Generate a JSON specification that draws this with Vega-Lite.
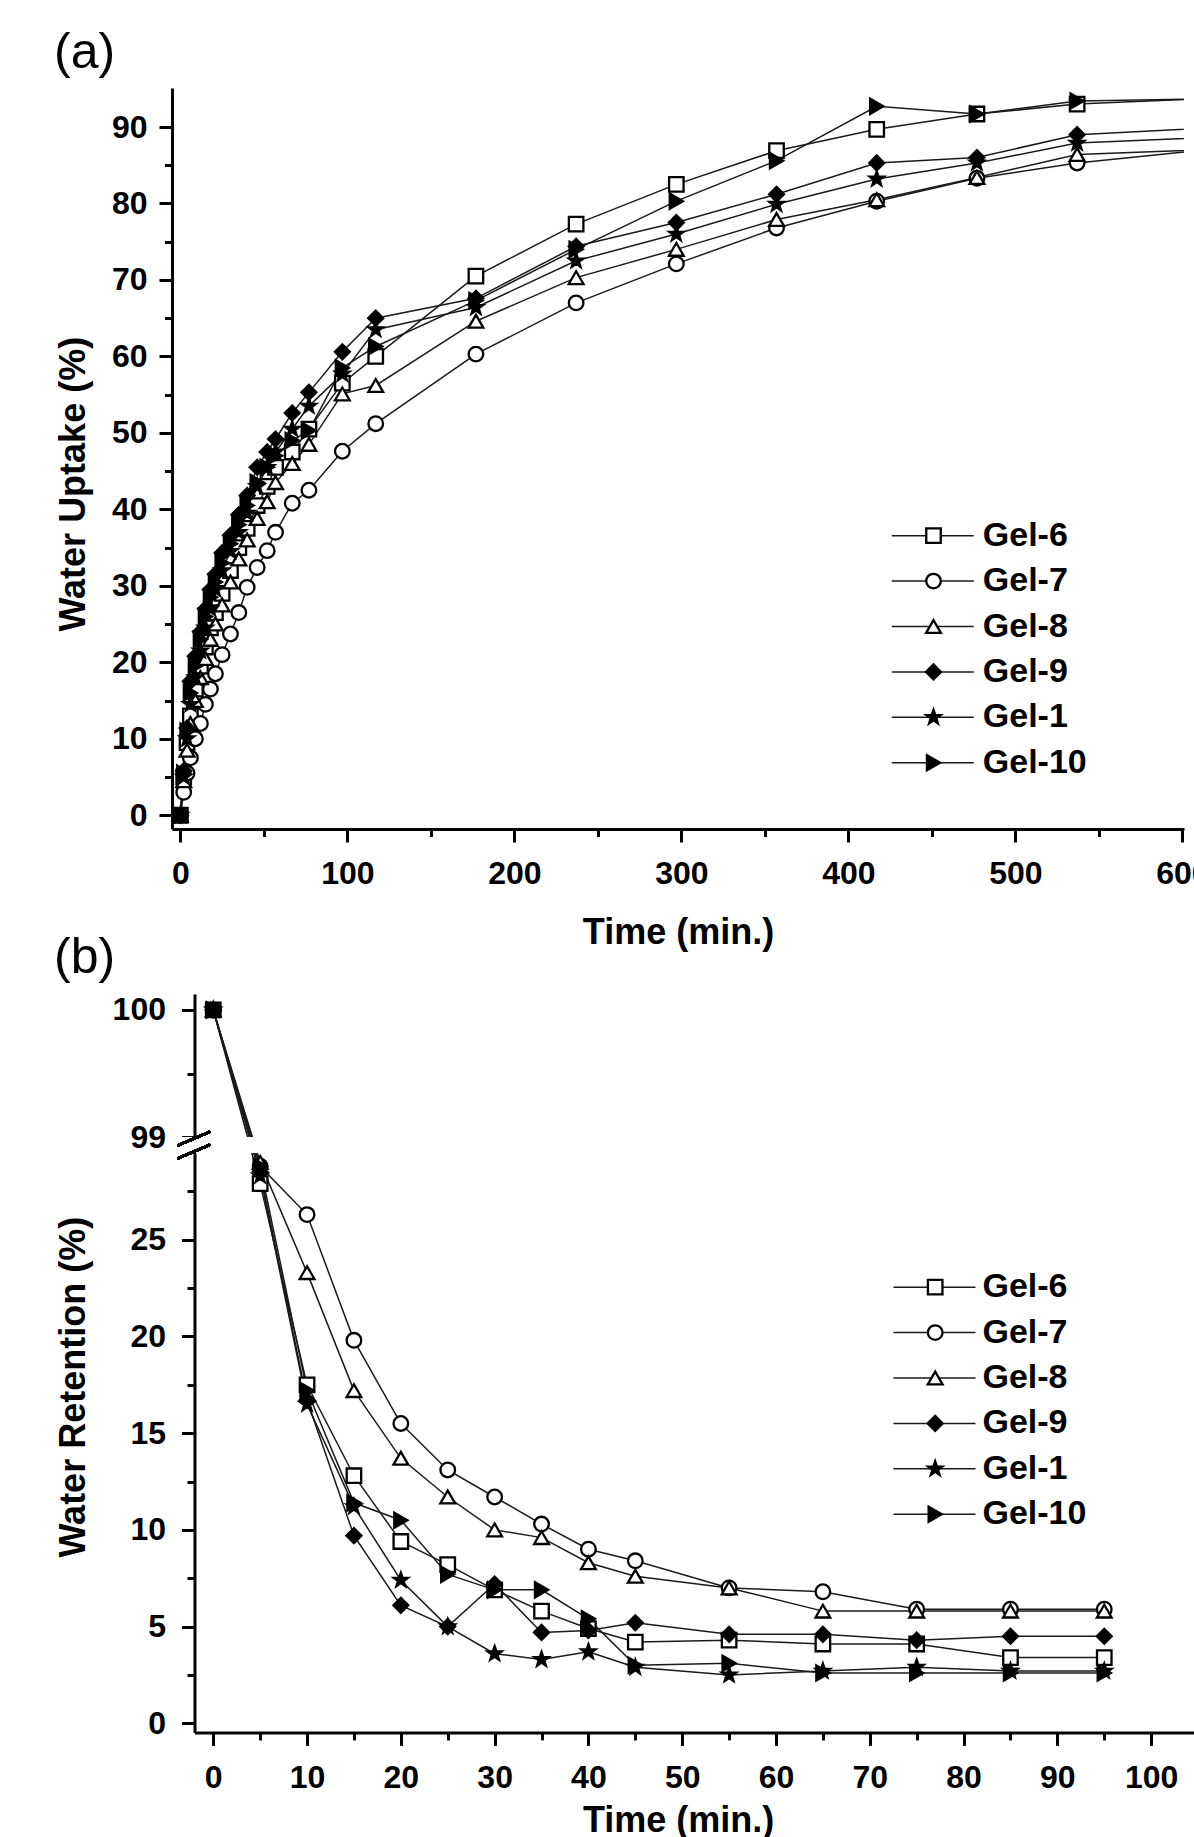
{
  "$schema": "https://vega.github.io/schema/vega-lite/v6.json",
  "padding": {"left": 54, "top": 28, "right": 0, "bottom": 0},
  "bounds": "flush",
  "spacing": 165,
  "resolve": {"scale": {"color": "independent", "shape": "independent", "fill": "independent", "size": "independent", "stroke": "independent"}},
  "config": {
    "view": {"stroke": null},
    "axis": {"domainColor": "black", "domainWidth": 3, "tickColor": "black", "tickWidth": 3, "tickSize": 13,
      "labelColor": "black", "labelFont": "Liberation Sans", "labelFontSize": 32, "labelFontWeight": "bold", "labelFlush": false,
      "titleColor": "black", "titleFont": "Liberation Sans", "titleFontSize": 36, "titleFontWeight": "bold", "grid": false},
    "legend": {"padding": 0, "labelFont": "Liberation Sans", "labelFontSize": 34, "labelFontWeight": "bold", "labelColor": "black"}
  },
  "datasets": {
    "uptake": [
      {"sample":"Gel-6","time":0,"value":0},{"sample":"Gel-6","time":2,"value":5.0},{"sample":"Gel-6","time":4,"value":9.5},{"sample":"Gel-6","time":6,"value":13.0},{"sample":"Gel-6","time":9,"value":16.5},{"sample":"Gel-6","time":12,"value":19.5},{"sample":"Gel-6","time":15,"value":22.0},{"sample":"Gel-6","time":18,"value":24.5},{"sample":"Gel-6","time":21,"value":26.5},{"sample":"Gel-6","time":25,"value":29.0},{"sample":"Gel-6","time":30,"value":32.0},{"sample":"Gel-6","time":35,"value":35.0},{"sample":"Gel-6","time":40,"value":37.5},{"sample":"Gel-6","time":46,"value":40.5},{"sample":"Gel-6","time":52,"value":43.0},{"sample":"Gel-6","time":57,"value":45.5},{"sample":"Gel-6","time":67,"value":47.5},{"sample":"Gel-6","time":77,"value":50.5},{"sample":"Gel-6","time":97,"value":56.5},{"sample":"Gel-6","time":117,"value":60.0},{"sample":"Gel-6","time":177,"value":70.5},{"sample":"Gel-6","time":237,"value":77.3},{"sample":"Gel-6","time":297,"value":82.5},{"sample":"Gel-6","time":357,"value":86.9},{"sample":"Gel-6","time":417,"value":89.7},{"sample":"Gel-6","time":477,"value":91.7},{"sample":"Gel-6","time":537,"value":93.0},{"sample":"Gel-6","time":657,"value":94.1},
      {"sample":"Gel-7","time":0,"value":0},{"sample":"Gel-7","time":2,"value":3.0},{"sample":"Gel-7","time":4,"value":5.5},{"sample":"Gel-7","time":6,"value":7.5},{"sample":"Gel-7","time":9,"value":10.0},{"sample":"Gel-7","time":12,"value":12.0},{"sample":"Gel-7","time":15,"value":14.5},{"sample":"Gel-7","time":18,"value":16.5},{"sample":"Gel-7","time":21,"value":18.5},{"sample":"Gel-7","time":25,"value":21.0},{"sample":"Gel-7","time":30,"value":23.7},{"sample":"Gel-7","time":35,"value":26.5},{"sample":"Gel-7","time":40,"value":29.8},{"sample":"Gel-7","time":46,"value":32.4},{"sample":"Gel-7","time":52,"value":34.6},{"sample":"Gel-7","time":57,"value":37.0},{"sample":"Gel-7","time":67,"value":40.8},{"sample":"Gel-7","time":77,"value":42.5},{"sample":"Gel-7","time":97,"value":47.6},{"sample":"Gel-7","time":117,"value":51.2},{"sample":"Gel-7","time":177,"value":60.3},{"sample":"Gel-7","time":237,"value":67.0},{"sample":"Gel-7","time":297,"value":72.1},{"sample":"Gel-7","time":357,"value":76.8},{"sample":"Gel-7","time":417,"value":80.3},{"sample":"Gel-7","time":477,"value":83.3},{"sample":"Gel-7","time":537,"value":85.3},{"sample":"Gel-7","time":657,"value":88.0},
      {"sample":"Gel-8","time":0,"value":0},{"sample":"Gel-8","time":2,"value":4.5},{"sample":"Gel-8","time":4,"value":8.5},{"sample":"Gel-8","time":6,"value":12.0},{"sample":"Gel-8","time":9,"value":15.0},{"sample":"Gel-8","time":12,"value":18.0},{"sample":"Gel-8","time":15,"value":20.5},{"sample":"Gel-8","time":18,"value":23.0},{"sample":"Gel-8","time":21,"value":25.0},{"sample":"Gel-8","time":25,"value":27.5},{"sample":"Gel-8","time":30,"value":30.5},{"sample":"Gel-8","time":35,"value":33.5},{"sample":"Gel-8","time":40,"value":36.0},{"sample":"Gel-8","time":46,"value":38.8},{"sample":"Gel-8","time":52,"value":41.0},{"sample":"Gel-8","time":57,"value":43.5},{"sample":"Gel-8","time":67,"value":46.0},{"sample":"Gel-8","time":77,"value":48.5},{"sample":"Gel-8","time":97,"value":55.1},{"sample":"Gel-8","time":117,"value":56.2},{"sample":"Gel-8","time":177,"value":64.6},{"sample":"Gel-8","time":237,"value":70.3},{"sample":"Gel-8","time":297,"value":74.0},{"sample":"Gel-8","time":357,"value":77.9},{"sample":"Gel-8","time":417,"value":80.5},{"sample":"Gel-8","time":477,"value":83.4},{"sample":"Gel-8","time":537,"value":86.4},{"sample":"Gel-8","time":657,"value":87.4},
      {"sample":"Gel-9","time":0,"value":0},{"sample":"Gel-9","time":2,"value":5.8},{"sample":"Gel-9","time":4,"value":11.4},{"sample":"Gel-9","time":6,"value":17.5},{"sample":"Gel-9","time":9,"value":20.8},{"sample":"Gel-9","time":12,"value":24.0},{"sample":"Gel-9","time":15,"value":27.0},{"sample":"Gel-9","time":18,"value":29.5},{"sample":"Gel-9","time":21,"value":31.5},{"sample":"Gel-9","time":25,"value":34.3},{"sample":"Gel-9","time":30,"value":36.6},{"sample":"Gel-9","time":35,"value":39.3},{"sample":"Gel-9","time":40,"value":41.8},{"sample":"Gel-9","time":46,"value":45.5},{"sample":"Gel-9","time":52,"value":47.5},{"sample":"Gel-9","time":57,"value":49.2},{"sample":"Gel-9","time":67,"value":52.6},{"sample":"Gel-9","time":77,"value":55.3},{"sample":"Gel-9","time":97,"value":60.6},{"sample":"Gel-9","time":117,"value":65.0},{"sample":"Gel-9","time":177,"value":67.6},{"sample":"Gel-9","time":237,"value":74.4},{"sample":"Gel-9","time":297,"value":77.5},{"sample":"Gel-9","time":357,"value":81.2},{"sample":"Gel-9","time":417,"value":85.3},{"sample":"Gel-9","time":477,"value":86.0},{"sample":"Gel-9","time":537,"value":89.0},{"sample":"Gel-9","time":657,"value":90.3},
      {"sample":"Gel-1","time":0,"value":0},{"sample":"Gel-1","time":2,"value":5.0},{"sample":"Gel-1","time":4,"value":10.0},{"sample":"Gel-1","time":6,"value":14.5},{"sample":"Gel-1","time":9,"value":18.0},{"sample":"Gel-1","time":12,"value":21.5},{"sample":"Gel-1","time":15,"value":24.5},{"sample":"Gel-1","time":18,"value":27.0},{"sample":"Gel-1","time":21,"value":29.5},{"sample":"Gel-1","time":25,"value":32.0},{"sample":"Gel-1","time":30,"value":34.5},{"sample":"Gel-1","time":35,"value":37.0},{"sample":"Gel-1","time":40,"value":39.5},{"sample":"Gel-1","time":46,"value":43.0},{"sample":"Gel-1","time":52,"value":45.5},{"sample":"Gel-1","time":57,"value":47.5},{"sample":"Gel-1","time":67,"value":50.5},{"sample":"Gel-1","time":77,"value":53.5},{"sample":"Gel-1","time":97,"value":57.7},{"sample":"Gel-1","time":117,"value":63.5},{"sample":"Gel-1","time":177,"value":66.4},{"sample":"Gel-1","time":237,"value":72.5},{"sample":"Gel-1","time":297,"value":76.0},{"sample":"Gel-1","time":357,"value":79.9},{"sample":"Gel-1","time":417,"value":83.2},{"sample":"Gel-1","time":477,"value":85.3},{"sample":"Gel-1","time":537,"value":87.9},{"sample":"Gel-1","time":657,"value":89.0},
      {"sample":"Gel-10","time":0,"value":0},{"sample":"Gel-10","time":2,"value":5.5},{"sample":"Gel-10","time":4,"value":11.0},{"sample":"Gel-10","time":6,"value":16.0},{"sample":"Gel-10","time":9,"value":19.5},{"sample":"Gel-10","time":12,"value":23.0},{"sample":"Gel-10","time":15,"value":26.0},{"sample":"Gel-10","time":18,"value":28.5},{"sample":"Gel-10","time":21,"value":30.5},{"sample":"Gel-10","time":25,"value":33.0},{"sample":"Gel-10","time":30,"value":35.5},{"sample":"Gel-10","time":35,"value":38.0},{"sample":"Gel-10","time":40,"value":40.5},{"sample":"Gel-10","time":46,"value":43.5},{"sample":"Gel-10","time":52,"value":45.5},{"sample":"Gel-10","time":57,"value":47.0},{"sample":"Gel-10","time":67,"value":49.0},{"sample":"Gel-10","time":77,"value":50.3},{"sample":"Gel-10","time":97,"value":58.5},{"sample":"Gel-10","time":117,"value":61.3},{"sample":"Gel-10","time":177,"value":67.3},{"sample":"Gel-10","time":237,"value":74.0},{"sample":"Gel-10","time":297,"value":80.3},{"sample":"Gel-10","time":357,"value":85.6},{"sample":"Gel-10","time":417,"value":92.7},{"sample":"Gel-10","time":477,"value":91.7},{"sample":"Gel-10","time":537,"value":93.4},{"sample":"Gel-10","time":657,"value":93.8}
    ],
    "retention": [
      {"sample":"Gel-6","time":0,"value":100},{"sample":"Gel-6","time":5,"value":27.9},{"sample":"Gel-6","time":10,"value":17.5},{"sample":"Gel-6","time":15,"value":12.8},{"sample":"Gel-6","time":20,"value":9.4},{"sample":"Gel-6","time":25,"value":8.2},{"sample":"Gel-6","time":30,"value":6.9},{"sample":"Gel-6","time":35,"value":5.8},{"sample":"Gel-6","time":40,"value":4.9},{"sample":"Gel-6","time":45,"value":4.2},{"sample":"Gel-6","time":55,"value":4.3},{"sample":"Gel-6","time":65,"value":4.1},{"sample":"Gel-6","time":75,"value":4.1},{"sample":"Gel-6","time":85,"value":3.4},{"sample":"Gel-6","time":95,"value":3.4},
      {"sample":"Gel-7","time":0,"value":100},{"sample":"Gel-7","time":5,"value":28.8},{"sample":"Gel-7","time":10,"value":26.3},{"sample":"Gel-7","time":15,"value":19.8},{"sample":"Gel-7","time":20,"value":15.5},{"sample":"Gel-7","time":25,"value":13.1},{"sample":"Gel-7","time":30,"value":11.7},{"sample":"Gel-7","time":35,"value":10.3},{"sample":"Gel-7","time":40,"value":9.0},{"sample":"Gel-7","time":45,"value":8.4},{"sample":"Gel-7","time":55,"value":7.0},{"sample":"Gel-7","time":65,"value":6.8},{"sample":"Gel-7","time":75,"value":5.9},{"sample":"Gel-7","time":85,"value":5.9},{"sample":"Gel-7","time":95,"value":5.9},
      {"sample":"Gel-8","time":0,"value":100},{"sample":"Gel-8","time":5,"value":29.0},{"sample":"Gel-8","time":10,"value":23.3},{"sample":"Gel-8","time":15,"value":17.2},{"sample":"Gel-8","time":20,"value":13.7},{"sample":"Gel-8","time":25,"value":11.7},{"sample":"Gel-8","time":30,"value":10.0},{"sample":"Gel-8","time":35,"value":9.6},{"sample":"Gel-8","time":40,"value":8.3},{"sample":"Gel-8","time":45,"value":7.6},{"sample":"Gel-8","time":55,"value":7.0},{"sample":"Gel-8","time":65,"value":5.8},{"sample":"Gel-8","time":75,"value":5.8},{"sample":"Gel-8","time":85,"value":5.8},{"sample":"Gel-8","time":95,"value":5.8},
      {"sample":"Gel-9","time":0,"value":100},{"sample":"Gel-9","time":5,"value":28.5},{"sample":"Gel-9","time":10,"value":16.7},{"sample":"Gel-9","time":15,"value":9.7},{"sample":"Gel-9","time":20,"value":6.1},{"sample":"Gel-9","time":25,"value":5.0},{"sample":"Gel-9","time":30,"value":7.2},{"sample":"Gel-9","time":35,"value":4.7},{"sample":"Gel-9","time":40,"value":4.8},{"sample":"Gel-9","time":45,"value":5.2},{"sample":"Gel-9","time":55,"value":4.6},{"sample":"Gel-9","time":65,"value":4.6},{"sample":"Gel-9","time":75,"value":4.3},{"sample":"Gel-9","time":85,"value":4.5},{"sample":"Gel-9","time":95,"value":4.5},
      {"sample":"Gel-1","time":0,"value":100},{"sample":"Gel-1","time":5,"value":28.3},{"sample":"Gel-1","time":10,"value":16.5},{"sample":"Gel-1","time":15,"value":11.2},{"sample":"Gel-1","time":20,"value":7.4},{"sample":"Gel-1","time":25,"value":5.0},{"sample":"Gel-1","time":30,"value":3.6},{"sample":"Gel-1","time":35,"value":3.3},{"sample":"Gel-1","time":40,"value":3.7},{"sample":"Gel-1","time":45,"value":2.9},{"sample":"Gel-1","time":55,"value":2.5},{"sample":"Gel-1","time":65,"value":2.7},{"sample":"Gel-1","time":75,"value":2.9},{"sample":"Gel-1","time":85,"value":2.7},{"sample":"Gel-1","time":95,"value":2.7},
      {"sample":"Gel-10","time":0,"value":100},{"sample":"Gel-10","time":5,"value":28.8},{"sample":"Gel-10","time":10,"value":17.2},{"sample":"Gel-10","time":15,"value":11.4},{"sample":"Gel-10","time":20,"value":10.5},{"sample":"Gel-10","time":25,"value":7.7},{"sample":"Gel-10","time":30,"value":6.9},{"sample":"Gel-10","time":35,"value":6.9},{"sample":"Gel-10","time":40,"value":5.4},{"sample":"Gel-10","time":45,"value":3.0},{"sample":"Gel-10","time":55,"value":3.1},{"sample":"Gel-10","time":65,"value":2.6},{"sample":"Gel-10","time":75,"value":2.6},{"sample":"Gel-10","time":85,"value":2.6},{"sample":"Gel-10","time":95,"value":2.6}
    ]
  },
  "vconcat": [
    {
      "title": {"text": "(a)", "anchor": "start", "frame": "group", "dx": -118, "offset": -30, "baseline": "alphabetic", "font": "Liberation Sans", "fontSize": 50, "fontWeight": "normal", "color": "black"},
      "width": 1012,
      "height": 741,
      "data": {"name": "uptake"},
      "resolve": {"axis": {"x": "independent", "y": "independent"}},
      "layer": [
        {
          "mark": {"type": "line", "clip": true, "strokeWidth": 1.5},
          "encoding": {
            "x": {"field": "time", "type": "quantitative", "scale": {"domain": [-5, 601], "nice": false, "zero": false},
              "axis": {"values": [0, 100, 200, 300, 400, 500, 600], "labelPadding": 16.6, "title": "Time (min.)", "titleX": 506, "titleY": 103, "titleBaseline": "middle"}},
            "y": {"field": "value", "type": "quantitative", "scale": {"domain": [-1.8, 95.1], "nice": false, "zero": false},
              "axis": {"values": [0, 10, 20, 30, 40, 50, 60, 70, 80, 90], "labelPadding": 12, "title": "Water Uptake (%)", "titleX": -98.7, "titleY": 395.7, "titleBaseline": "middle"}},
            "color": {"field": "sample", "type": "nominal",
              "scale": {"domain": ["Gel-1", "Gel-10", "Gel-6", "Gel-7", "Gel-8", "Gel-9"], "range": ["#1a1a1a", "#1a1a1a", "#1a1a1a", "#1a1a1a", "#1a1a1a", "#1a1a1a"]},
              "legend": {"orient": "none", "legendX": 743.8, "legendY": 430.7, "title": null, "values": ["Gel-6", "Gel-7", "Gel-8", "Gel-9", "Gel-1", "Gel-10"], "symbolType": "M-8.2,0H8.2", "symbolSize": 100, "symbolStrokeWidth": 1.5, "symbolStrokeColor": "#1a1a1a", "labelOffset": 33, "rowPadding": 11.4}}
          }
        },
        {
          "mark": {"type": "point", "clip": true, "filled": true, "opacity": 1, "strokeWidth": 2.3},
          "encoding": {
            "x": {"field": "time", "type": "quantitative",
              "axis": {"orient": "bottom", "values": [50, 150, 250, 350, 450, 550], "tickSize": 7.5, "labels": false, "domain": false, "title": null}},
            "y": {"field": "value", "type": "quantitative",
              "axis": {"orient": "left", "values": [5, 15, 25, 35, 45, 55, 65, 75, 85], "tickSize": 7.5, "labels": false, "domain": false, "title": null}},
            "shape": {"field": "sample", "type": "nominal",
              "scale": {"domain": ["Gel-6", "Gel-7", "Gel-8", "Gel-9", "Gel-1", "Gel-10"], "range": ["square", "circle", "triangle-up", "diamond", "M0,-1L0.235,-0.324L0.951,-0.309L0.38,0.124L0.588,0.809L0,0.4L-0.588,0.809L-0.38,0.124L-0.951,-0.309L-0.235,-0.324Z", "triangle-right"]},
              "legend": {"orient": "none", "legendX": 744.5, "legendY": 430.7, "title": null, "labelExpr": "' '", "rowPadding": 11.4, "symbolStrokeWidth": 2.3}},
            "fill": {"field": "sample", "type": "nominal",
              "scale": {"domain": ["Gel-6", "Gel-7", "Gel-8", "Gel-9", "Gel-1", "Gel-10"], "range": ["white", "white", "white", "black", "black", "black"]},
              "legend": {"orient": "none", "legendX": 744.5, "legendY": 430.7, "title": null, "labelExpr": "' '", "rowPadding": 11.4, "symbolStrokeWidth": 2.3}},
            "stroke": {"field": "sample", "type": "nominal",
              "scale": {"domain": ["Gel-6", "Gel-7", "Gel-8", "Gel-9", "Gel-1", "Gel-10"], "range": ["black", "black", "black", "black", "black", "black"]},
              "legend": {"orient": "none", "legendX": 744.5, "legendY": 430.7, "title": null, "labelExpr": "' '", "rowPadding": 11.4, "symbolStrokeWidth": 2.3}},
            "size": {"field": "sample", "type": "nominal",
              "scale": {"domain": ["Gel-6", "Gel-7", "Gel-8", "Gel-9", "Gel-1", "Gel-10"], "range": [210, 230, 330, 360, 320, 340]},
              "legend": {"orient": "none", "legendX": 744.5, "legendY": 430.7, "title": null, "labelExpr": "' '", "rowPadding": 11.4, "symbolStrokeWidth": 2.3}}
          }
        }
      ]
    },
    {
      "title": {"text": "(b)", "anchor": "start", "frame": "group", "dx": -118, "offset": -29, "baseline": "alphabetic", "font": "Liberation Sans", "fontSize": 50, "fontWeight": "normal", "color": "black"},
      "width": 1022.3,
      "height": 738.4,
      "data": {"name": "retention"},
      "resolve": {"axis": {"x": "independent", "y": "independent"}},
      "layer": [
        {
          "mark": {"type": "line", "strokeWidth": 1.5},
          "encoding": {
            "x": {"field": "time", "type": "quantitative", "scale": {"domain": [-2, 104.6], "range": [22.5, 1022.3], "nice": false, "zero": false},
              "axis": {"values": [0, 10, 20, 30, 40, 50, 60, 70, 80, 90, 100], "labelPadding": 16.6, "title": "Time (min.)", "titleX": 506.1, "titleY": 88.3, "titleBaseline": "middle"}},
            "y": {"field": "value", "type": "quantitative", "scale": {"domain": [-0.47, 29.5, 99, 100.125], "range": [738.4, 158.7, 143.4, 0], "nice": false, "zero": false},
              "axis": {"values": [0, 5, 10, 15, 20, 25, 99, 100], "offset": -22.5, "labelPadding": 16, "title": "Water Retention (%)", "titleX": -121.2, "titleY": 392.7, "titleBaseline": "middle"}},
            "color": {"field": "sample", "type": "nominal",
              "scale": {"domain": ["Gel-1", "Gel-10", "Gel-6", "Gel-7", "Gel-8", "Gel-9"], "range": ["#1a1a1a", "#1a1a1a", "#1a1a1a", "#1a1a1a", "#1a1a1a", "#1a1a1a"]},
              "legend": {"orient": "none", "legendX": 745.5, "legendY": 276.2, "title": null, "values": ["Gel-6", "Gel-7", "Gel-8", "Gel-9", "Gel-1", "Gel-10"], "symbolType": "M-8.2,0H8.2", "symbolSize": 100, "symbolStrokeWidth": 1.5, "symbolStrokeColor": "#1a1a1a", "labelOffset": 31, "rowPadding": 11.4}}
          }
        },
        {
          "mark": {"type": "point", "filled": true, "opacity": 1, "strokeWidth": 2.3},
          "encoding": {
            "x": {"field": "time", "type": "quantitative",
              "axis": {"orient": "bottom", "values": [5, 15, 25, 35, 45, 55, 65, 75, 85, 95], "tickSize": 7.5, "labels": false, "domain": false, "title": null}},
            "y": {"field": "value", "type": "quantitative",
              "axis": {"orient": "left", "offset": -22.5, "values": [2.5, 7.5, 12.5, 17.5, 22.5, 27.5, 99.5], "tickSize": 7.5, "labels": false, "domain": false, "title": null}},
            "shape": {"field": "sample", "type": "nominal",
              "scale": {"domain": ["Gel-6", "Gel-7", "Gel-8", "Gel-9", "Gel-1", "Gel-10"], "range": ["square", "circle", "triangle-up", "diamond", "M0,-1L0.235,-0.324L0.951,-0.309L0.38,0.124L0.588,0.809L0,0.4L-0.588,0.809L-0.38,0.124L-0.951,-0.309L-0.235,-0.324Z", "triangle-right"]},
              "legend": {"orient": "none", "legendX": 746.2, "legendY": 276.2, "title": null, "labelExpr": "' '", "rowPadding": 11.4, "symbolStrokeWidth": 2.3}},
            "fill": {"field": "sample", "type": "nominal",
              "scale": {"domain": ["Gel-6", "Gel-7", "Gel-8", "Gel-9", "Gel-1", "Gel-10"], "range": ["white", "white", "white", "black", "black", "black"]},
              "legend": {"orient": "none", "legendX": 746.2, "legendY": 276.2, "title": null, "labelExpr": "' '", "rowPadding": 11.4, "symbolStrokeWidth": 2.3}},
            "stroke": {"field": "sample", "type": "nominal",
              "scale": {"domain": ["Gel-6", "Gel-7", "Gel-8", "Gel-9", "Gel-1", "Gel-10"], "range": ["black", "black", "black", "black", "black", "black"]},
              "legend": {"orient": "none", "legendX": 746.2, "legendY": 276.2, "title": null, "labelExpr": "' '", "rowPadding": 11.4, "symbolStrokeWidth": 2.3}},
            "size": {"field": "sample", "type": "nominal",
              "scale": {"domain": ["Gel-6", "Gel-7", "Gel-8", "Gel-9", "Gel-1", "Gel-10"], "range": [210, 230, 330, 360, 320, 340]},
              "legend": {"orient": "none", "legendX": 746.2, "legendY": 276.2, "title": null, "labelExpr": "' '", "rowPadding": 11.4, "symbolStrokeWidth": 2.3}}
          }
        },
        {
          "mark": {"type": "rect", "color": "white", "strokeWidth": 0},
          "encoding": {
            "x": {"datum": -3.9, "type": "quantitative", "axis": null},
            "x2": {"datum": 104.6},
            "y": {"datum": 99, "type": "quantitative", "axis": null},
            "y2": {"datum": 29.5}
          }
        },
        {
          "mark": {"type": "rule", "color": "black", "strokeWidth": 2.5},
          "encoding": {
            "x": {"datum": -3.83, "type": "quantitative", "axis": null},
            "x2": {"datum": -0.32},
            "y": {"datum": 61.3, "type": "quantitative", "axis": null},
            "y2": {"datum": 99.045}
          }
        },
        {
          "mark": {"type": "rule", "color": "black", "strokeWidth": 2.5},
          "encoding": {
            "x": {"datum": -3.83, "type": "quantitative", "axis": null},
            "x2": {"datum": -0.32},
            "y": {"datum": 29.19, "type": "quantitative", "axis": null},
            "y2": {"datum": 65.84}
          }
        }
      ]
    }
  ]
}
